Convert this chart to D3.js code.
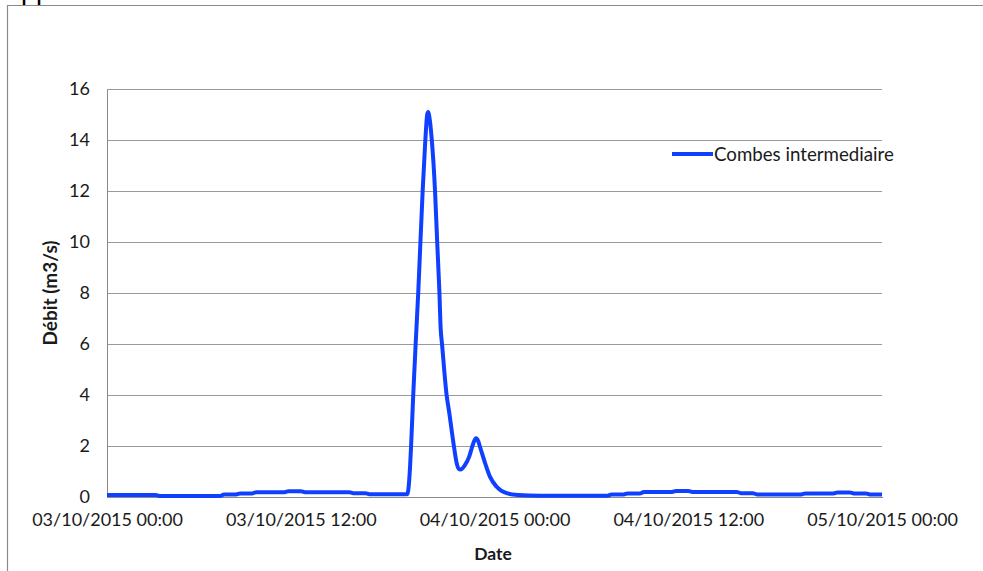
<!DOCTYPE html>
<html>
<head>
<meta charset="utf-8">
<script src="https://cdn.jsdelivr.net/npm/d3@7"></script>
<style>
  html, body { margin: 0; padding: 0; background: #ffffff; }
  svg { display: block; }
  text { font-family: Lato, "Liberation Sans", sans-serif; fill: #1a1a1a; }
</style>
</head>
<body>
<svg id="chart" width="983" height="571"></svg>
<script>
// ---------- data ----------
const seriesName = "Combes intermediaire";
const yTicks = [0, 2, 4, 6, 8, 10, 12, 14, 16];
const xTickTimes = ["2015-10-03 00:00", "2015-10-03 12:00", "2015-10-04 00:00", "2015-10-04 12:00", "2015-10-05 00:00"];
const xTickLabels = ["03/10/2015 00:00", "03/10/2015 12:00", "04/10/2015 00:00", "04/10/2015 12:00", "05/10/2015 00:00"];

const times = [
  "2015-10-03 00:00", "2015-10-03 03:00", "2015-10-03 03:15", "2015-10-03 07:00", "2015-10-03 07:15",
  "2015-10-03 08:00", "2015-10-03 08:15", "2015-10-03 09:00", "2015-10-03 09:15", "2015-10-03 11:00",
  "2015-10-03 11:15", "2015-10-03 12:00", "2015-10-03 12:15", "2015-10-03 15:00", "2015-10-03 15:15",
  "2015-10-03 16:00", "2015-10-03 16:15", "2015-10-03 18:36", "2015-10-03 18:44", "2015-10-03 18:50",
  "2015-10-03 18:58", "2015-10-03 19:07", "2015-10-03 19:17", "2015-10-03 19:33", "2015-10-03 19:43",
  "2015-10-03 19:50", "2015-10-03 19:54", "2015-10-03 19:58", "2015-10-03 20:07", "2015-10-03 20:19",
  "2015-10-03 20:27", "2015-10-03 20:35", "2015-10-03 20:40", "2015-10-03 20:45", "2015-10-03 21:02",
  "2015-10-03 21:12", "2015-10-03 21:21", "2015-10-03 21:29", "2015-10-03 21:40", "2015-10-03 21:46",
  "2015-10-03 21:54", "2015-10-03 22:10", "2015-10-03 22:26", "2015-10-03 22:35", "2015-10-03 22:41",
  "2015-10-03 22:51", "2015-10-03 22:59", "2015-10-03 23:06", "2015-10-03 23:25", "2015-10-03 23:43",
  "2015-10-04 00:08", "2015-10-04 00:45", "2015-10-04 01:27", "2015-10-04 02:50", "2015-10-04 07:00",
  "2015-10-04 07:15", "2015-10-04 08:00", "2015-10-04 08:15", "2015-10-04 09:00", "2015-10-04 09:15",
  "2015-10-04 11:00", "2015-10-04 11:15", "2015-10-04 12:00", "2015-10-04 12:15", "2015-10-04 15:00",
  "2015-10-04 15:15", "2015-10-04 16:00", "2015-10-04 16:15", "2015-10-04 19:00", "2015-10-04 19:15",
  "2015-10-04 21:00", "2015-10-04 21:15", "2015-10-04 22:00", "2015-10-04 22:15", "2015-10-04 23:00",
  "2015-10-04 23:15", "2015-10-05 00:00"
];
const flow = [
  0.08, 0.08, 0.04, 0.04, 0.10,
  0.10, 0.14, 0.14, 0.19, 0.19,
  0.23, 0.23, 0.19, 0.19, 0.15,
  0.15, 0.11, 0.11, 0.80, 2.00,
  4.00, 6.00, 8.10, 12.00, 14.00,
  15.00, 15.10, 14.90, 14.00, 12.00,
  10.00, 8.10, 6.60, 6.00, 4.00,
  3.30, 2.60, 2.00, 1.30, 1.12,
  1.08, 1.25, 1.58, 1.90, 2.10,
  2.30, 2.20, 1.97, 1.33, 0.80,
  0.40, 0.15, 0.08, 0.05, 0.05,
  0.10, 0.10, 0.14, 0.14, 0.20,
  0.20, 0.24, 0.24, 0.20, 0.20,
  0.15, 0.15, 0.10, 0.10, 0.14,
  0.14, 0.18, 0.18, 0.14, 0.14,
  0.10, 0.10
];

// ---------- layout ----------
const svg = d3.select("#chart");
const parse = d3.timeParse("%Y-%m-%d %H:%M");
const plot = { left: 107, right: 882, top: 89, bottom: 497 };

const x = d3.scaleTime()
  .domain([parse(xTickTimes[0]), parse(xTickTimes[xTickTimes.length - 1])])
  .range([plot.left, plot.right]);
const y = d3.scaleLinear().domain([0, 16]).range([plot.bottom, plot.top]);

// outer frame (partial, as in reference), with the cropped text fragment above it
svg.append("text").attr("x", 21).attr("y", -1).attr("font-size", 27)
  .style("font-family", "'Liberation Sans', sans-serif").style("fill", "#000").text("pp");
svg.append("line").attr("x1", 7).attr("x2", 983).attr("y1", 5.5).attr("y2", 5.5)
  .attr("stroke", "#8a8a8a").attr("stroke-width", 1.2);
svg.append("line").attr("x1", 7.5).attr("x2", 7.5).attr("y1", 5).attr("y2", 571)
  .attr("stroke", "#8a8a8a").attr("stroke-width", 1.2);

// gridlines
const yAxisGrid = d3.axisLeft(y).tickValues(yTicks.filter(v => v > 0))
  .tickSize(-(plot.right - plot.left)).tickFormat("");
const gGrid = svg.append("g").attr("transform", `translate(${plot.left},0)`).call(yAxisGrid);
gGrid.select(".domain").remove();
gGrid.selectAll(".tick line").attr("stroke", "#9a9a9a").attr("stroke-width", 1)
  .attr("shape-rendering", "crispEdges");

// y axis
const yAxis = d3.axisLeft(y).tickValues(yTicks).tickSize(0).tickPadding(17);
const gY = svg.append("g").attr("transform", `translate(${plot.left},0)`).call(yAxis);
gY.select(".domain").attr("stroke", "#8a8a8a").attr("shape-rendering", "crispEdges");
gY.selectAll(".tick text").attr("font-size", 18).style("font-family", "Lato, sans-serif")
  .attr("fill", "#1a1a1a");

// x axis
const xAxis = d3.axisBottom(x).tickValues(xTickTimes.map(parse)).tickSize(0).tickPadding(16)
  .tickFormat((d, i) => xTickLabels[i]);
const gX = svg.append("g").attr("transform", `translate(0,${plot.bottom})`).call(xAxis);
gX.select(".domain").attr("stroke", "#8a8a8a").attr("shape-rendering", "crispEdges");
gX.selectAll(".tick text").attr("font-size", 18).style("font-family", "Lato, sans-serif")
  .attr("fill", "#1a1a1a");

// series line
const pts = times.map((t, i) => ({ t: parse(t), v: flow[i] }));
const line = d3.line().x(d => x(d.t)).y(d => y(d.v)).curve(d3.curveMonotoneX);
svg.append("path").datum(pts).attr("d", line)
  .attr("fill", "none").attr("stroke", "#1040ff").attr("stroke-width", 4)
  .attr("stroke-linejoin", "round").attr("stroke-linecap", "butt");

// axis titles
svg.append("text").attr("x", 493).attr("y", 560).attr("text-anchor", "middle")
  .attr("font-size", 17.5).attr("font-weight", "bold").text("Date");
svg.append("text").attr("transform", `translate(57,${(plot.top + plot.bottom) / 2}) rotate(-90)`)
  .attr("text-anchor", "middle").attr("font-size", 19).attr("font-weight", "bold").text("Débit (m3/s)");

// legend
const lg = svg.append("g").attr("transform", "translate(672,154)");
lg.append("line").attr("x1", 0).attr("x2", 41).attr("y1", 0).attr("y2", 0)
  .attr("stroke", "#1040ff").attr("stroke-width", 4);
lg.append("text").attr("x", 42).attr("y", 6.5).attr("font-size", 18.7).text(seriesName);
</script>
</body>
</html>
